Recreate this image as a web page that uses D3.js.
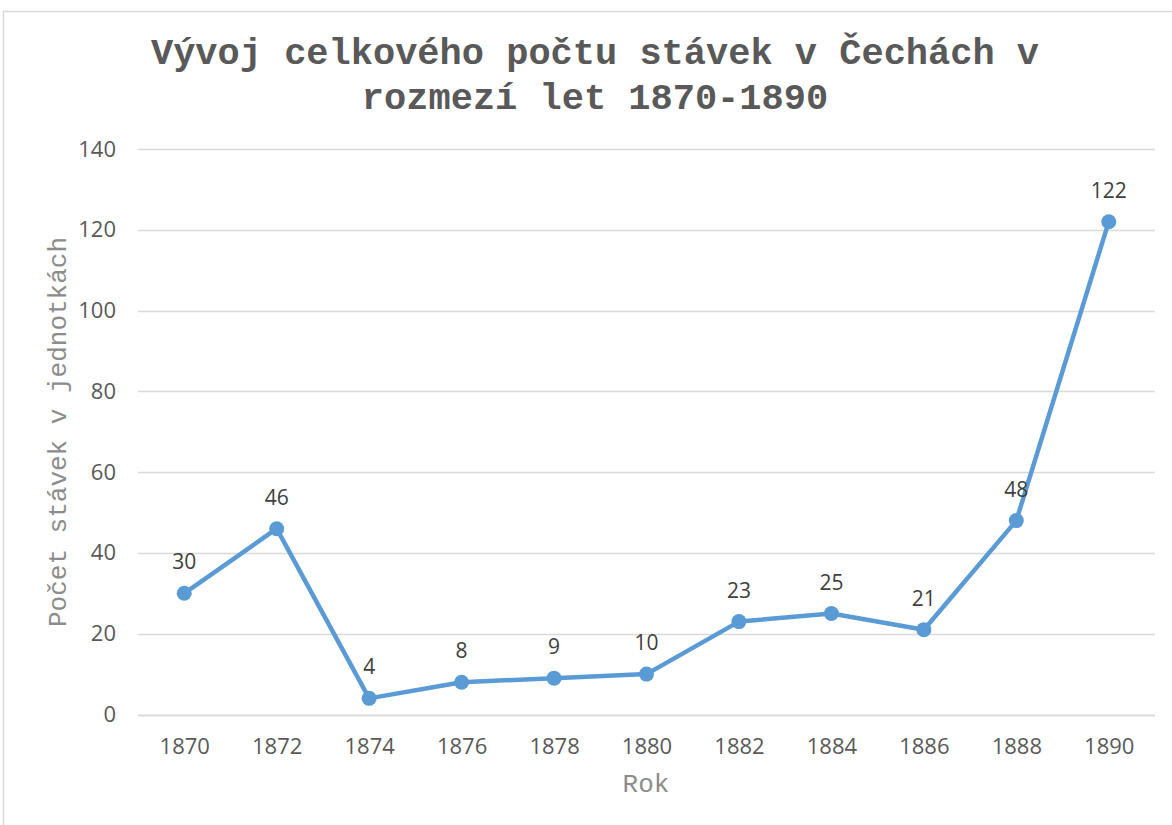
<!DOCTYPE html>
<html>
<head>
<meta charset="utf-8">
<script src="https://cdn.jsdelivr.net/npm/d3@7"></script>
<style>
  body { margin: 0; background: #fff; }
  svg { display: block; }
</style>
</head>
<body>
<div id="layout"></div>
<script>
var years = ["1870", "1872", "1874", "1876", "1878", "1880", "1882", "1884", "1886", "1888", "1890"];
var strikes = [30, 46, 4, 8, 9, 10, 23, 25, 21, 48, 122];
var yTicks = [0, 20, 40, 60, 80, 100, 120, 140];
var titleLines = ["Vývoj celkového počtu stávek v Čechách v", "rozmezí let 1870-1890"];
var xTitle = "Rok";
var yTitle = "Počet stávek v jednotkách";

var outerWidth = 1172,
    outerHeight = 825,
    margin = { top: 149, right: 17, bottom: 110, left: 138 },
    width = outerWidth - margin.left - margin.right,
    height = outerHeight - margin.top - margin.bottom;

var lineColor = "#5b9bd5";
var monoFont = "'Courier New', Courier, 'Nimbus Mono PS', FreeMono, 'Liberation Mono', monospace";
var sansFont = "'Open Sans', sans-serif";

var svg = d3.select("#layout")
            .append("svg")
            .attr("width", outerWidth)
            .attr("height", outerHeight);

// chart border
svg.append("rect")
   .attr("x", 3.5)
   .attr("y", 11.5)
   .attr("width", outerWidth + 10)
   .attr("height", outerHeight + 10)
   .attr("fill", "none")
   .attr("stroke", "#d9d9d9")
   .attr("stroke-width", 1.5);

// title
svg.append("g")
   .selectAll("text")
   .data(titleLines)
   .enter()
   .append("text")
   .attr("x", 595)
   .attr("y", (d, i) => 64 + i * 45)
   .attr("text-anchor", "middle")
   .attr("font-family", monoFont)
   .attr("font-weight", "bold")
   .attr("font-size", 37)
   .attr("fill", "#595959")
   .text(d => d);

var g = svg.append("g")
           .attr("transform", "translate(" + margin.left + "," + margin.top + ")");

var xScale = d3.scalePoint()
               .domain(years)
               .range([0, width])
               .padding(0.5);

var yScale = d3.scaleLinear()
               .domain([0, 140])
               .range([height - 0.5, 0]);

// gridlines
g.append("g")
 .selectAll("line")
 .data(yTicks)
 .enter()
 .append("line")
 .attr("x1", 0)
 .attr("x2", width)
 .attr("y1", d => Math.round(yScale(d)) + 0.5)
 .attr("y2", d => Math.round(yScale(d)) + 0.5)
 .attr("stroke", "#d9d9d9")
 .attr("stroke-width", d => d === 0 ? 2 : 1.5);

// Y axis
var yAxis = d3.axisLeft(yScale)
              .tickValues(yTicks)
              .tickSize(0)
              .tickPadding(22);

g.append("g")
 .attr("class", "y axis")
 .call(yAxis)
 .call(a => a.select(".domain").remove())
 .selectAll("text")
 .attr("font-family", sansFont)
 .attr("font-size", 22)
 .attr("fill", "#595959");

// X axis
var xAxis = d3.axisBottom(xScale)
              .tickSize(0)
              .tickPadding(23);

g.append("g")
 .attr("class", "x axis")
 .attr("transform", "translate(0," + height + ")")
 .call(xAxis)
 .call(a => a.select(".domain").remove())
 .selectAll("text")
 .attr("font-family", sansFont)
 .attr("font-size", 22)
 .attr("fill", "#595959");

// axis titles
svg.append("text")
   .attr("x", 646)
   .attr("y", 792)
   .attr("text-anchor", "middle")
   .attr("font-family", monoFont)
   .attr("font-size", 26)
   .attr("fill", "#8c8c8c")
   .text(xTitle);

svg.append("text")
   .attr("transform", "translate(66," + (margin.top + height / 2) + ") rotate(-90)")
   .attr("text-anchor", "middle")
   .attr("font-family", monoFont)
   .attr("font-size", 26)
   .attr("fill", "#8c8c8c")
   .text(yTitle);

// line
var line = d3.line()
             .x((d, i) => xScale(years[i]))
             .y(d => yScale(d));

g.append("path")
 .datum(strikes)
 .attr("d", line)
 .attr("fill", "none")
 .attr("stroke", lineColor)
 .attr("stroke-width", 4.5)
 .attr("stroke-linejoin", "round")
 .attr("stroke-linecap", "round");

// markers
g.append("g")
 .selectAll("circle")
 .data(strikes)
 .enter()
 .append("circle")
 .attr("cx", (d, i) => xScale(years[i]))
 .attr("cy", d => yScale(d))
 .attr("r", 7.5)
 .attr("fill", lineColor);

// data labels
g.append("g")
 .selectAll("text")
 .data(strikes)
 .enter()
 .append("text")
 .attr("x", (d, i) => xScale(years[i]))
 .attr("y", d => yScale(d) - 24)
 .attr("text-anchor", "middle")
 .attr("font-family", sansFont)
 .attr("font-size", 21)
 .attr("fill", "#404040")
 .text(d => d);
</script>
</body>
</html>
